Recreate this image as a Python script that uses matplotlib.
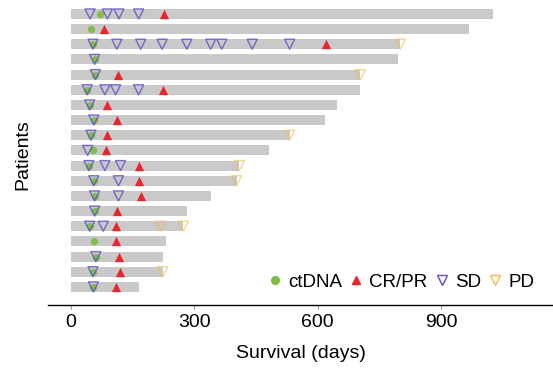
import matplotlib
matplotlib.use("Agg")
import matplotlib.pyplot as plt
from matplotlib.lines import Line2D

plt.rcParams['font.family'] = ['Liberation Sans', 'DejaVu Sans']

# survival per patient (days), top row first
survival = [1027, 968, 801, 796, 704, 704, 648, 617, 534, 481,
            410, 403, 340, 282, 274, 231, 225, 223, 165]

# event days per patient
ctdna = [[70], [50], [54], [58], [60], [40], [46], [56], [49], [53],
         [44], [56], [58], [58], [46], [56], [61], [54], [55]]
crpr = [[226], [80], [620], [], [116], [225], [87], [112], [89], [85],
        [165], [167], [170], [113], [109], [109], [117], [119], [109]]
sd = [[47, 89, 117, 165], [], [54, 112, 170, 222, 282, 340, 367, 441, 532],
      [58], [60], [40, 83, 109, 165], [46], [56], [49], [41],
      [44, 83, 121], [56, 116], [58, 116], [58], [46, 79], [], [61], [54], [55]]
pd_ = [[], [], [801], [], [704], [], [], [], [532], [],
       [410], [403], [], [], [218, 274], [], [], [223], []]

C_BAR = '#c9c9c9'
C_CT = '#7cbd3f'
C_CR = '#e8262d'
C_SD = '#5a4fc4'
C_PD = '#f7b84a'

fig = plt.figure(figsize=(5.53, 3.73), dpi=100)
ax = fig.add_axes([0.087, 0.182, 0.913, 0.805])

rows = list(range(1, len(survival) + 1))
ax.barh(rows, survival, height=0.66, color=C_BAR, zorder=1)


def flat(events):
    xs, ys = [], []
    for r, days in zip(rows, events):
        for d in days:
            xs.append(d)
            ys.append(r)
    return xs, ys


x, y = flat(ctdna)
ax.scatter(x, y, s=28, color=C_CT, zorder=2, linewidths=0, alpha=0.9)
x, y = flat(crpr)
ax.scatter(x, y, s=45, marker='^', color=C_CR, zorder=3, linewidths=0)
x, y = flat(sd)
ax.scatter(x, y, s=52, marker='v', facecolors='none', edgecolors=C_SD,
           linewidths=1.0, zorder=4, alpha=0.8)
x, y = flat(pd_)
ax.scatter(x, y, s=52, marker='v', facecolors='none', edgecolors=C_PD,
           linewidths=1.0, zorder=4, alpha=0.6)

ax.set_xlim(-55, 1172)
ax.set_ylim(20.2, 0.4)
ax.set_xticks([0, 300, 600, 900])
ax.set_yticks([])
ax.tick_params(axis='x', labelsize=14, length=3, width=0.8, color='#999999')
ax.set_xlabel('Survival (days)', fontsize=14, labelpad=10)
ax.set_ylabel('Patients', fontsize=14, labelpad=12)

for s in ['top', 'right', 'left']:
    ax.spines[s].set_visible(False)
ax.spines['bottom'].set_linewidth(1.0)

handles = [
    Line2D([], [], marker='o', color=C_CT, linestyle='none', markersize=5.5),
    Line2D([], [], marker='^', color=C_CR, linestyle='none', markersize=6),
    Line2D([], [], marker='v', markerfacecolor='none', markeredgecolor=C_SD,
           linestyle='none', markersize=6.5),
    Line2D([], [], marker='v', markerfacecolor='none', markeredgecolor=C_PD,
           linestyle='none', markersize=6.5),
]
ax.legend(handles, ['ctDNA', 'CR/PR', 'SD', 'PD'], ncol=4, frameon=False,
          fontsize=13.5, loc='lower right', bbox_to_anchor=(0.985, 0.01),
          handletextpad=0.3, columnspacing=0.35, handlelength=0.8,
          borderaxespad=0.2)

fig.savefig('out.png', dpi=100)
